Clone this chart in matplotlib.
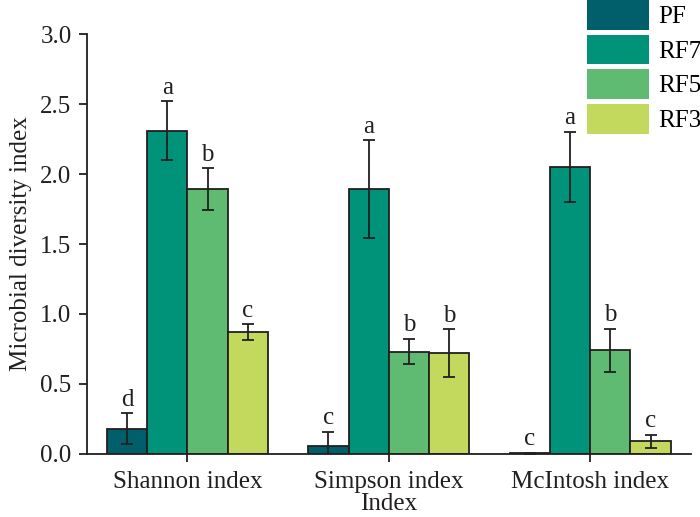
import numpy as np
import matplotlib.pyplot as plt
from matplotlib.patches import Patch

indices = ["Shannon index", "Simpson index", "McIntosh index"]
groups = ["PF", "RF7", "RF5", "RF3"]
colors = ["#005f6b", "#00937a", "#60bb72", "#c2d95e"]

means = {
    "PF": [0.18, 0.06, 0.005],
    "RF7": [2.31, 1.89, 2.05],
    "RF5": [1.89, 0.73, 0.74],
    "RF3": [0.87, 0.72, 0.09],
}
errs = {
    "PF": [0.11, 0.095, 0.003],
    "RF7": [0.21, 0.35, 0.25],
    "RF5": [0.15, 0.09, 0.155],
    "RF3": [0.055, 0.17, 0.045],
}
letters = {
    "PF": ["d", "c", "c"],
    "RF7": ["a", "a", "a"],
    "RF5": ["b", "b", "b"],
    "RF3": ["c", "b", "c"],
}

plt.rcParams["font.family"] = ["Liberation Serif", "DejaVu Serif"]
txt = "#231f20"
fs = 18

fig = plt.figure(figsize=(7, 5.17), dpi=100)
ax = fig.add_axes([0.124, 0.122, 0.863, 0.812])

x = np.arange(len(indices))
w = 0.2
for i, g in enumerate(groups):
    pos = x + (i - 1.5) * w
    ax.bar(pos, means[g], width=w, color=colors[i], edgecolor=txt, linewidth=1.3)
    ax.errorbar(pos, means[g], yerr=errs[g], fmt="none", ecolor=txt,
                elinewidth=1.3, capsize=4, capthick=1.3)
    for xp, m, e, lab in zip(pos, means[g], errs[g], letters[g]):
        ax.annotate(lab, (xp, m + e), xytext=(0, 2), textcoords="offset points",
                    ha="center", va="bottom", fontsize=fs, color=txt)

ax.set_xlim(-0.5, 2.5)
ax.set_ylim(0, 3.0)
ax.set_yticks(np.arange(0, 3.01, 0.5))
ax.set_yticklabels([f"{v:.1f}" for v in np.arange(0, 3.01, 0.5)])
ax.set_xticks(x)
ax.set_xticklabels(indices)
ax.spines["top"].set_visible(False)
ax.spines["right"].set_visible(False)
for s in ["left", "bottom"]:
    ax.spines[s].set_color(txt)
    ax.spines[s].set_linewidth(1.3)
ax.tick_params(axis="both", direction="out", length=6, width=1.3, colors=txt,
               labelsize=fs, labelcolor=txt)
ax.tick_params(axis="x", pad=6)
ax.tick_params(axis="y", pad=5)
ax.set_xlabel("Index", fontsize=fs, color=txt, labelpad=0)
ax.set_ylabel("Microbial diversity index", fontsize=fs, color=txt, labelpad=6)

handles = [Patch(facecolor=c, edgecolor="none") for c in colors]
fig.legend(handles, groups, loc="upper left", bbox_to_anchor=(0.838, 1.0),
           frameon=False, fontsize=fs, handlelength=2.5, handleheight=1.45,
           labelspacing=0.2, handletextpad=0.35, borderaxespad=0, borderpad=0)

fig.savefig("out.png", dpi=100)
